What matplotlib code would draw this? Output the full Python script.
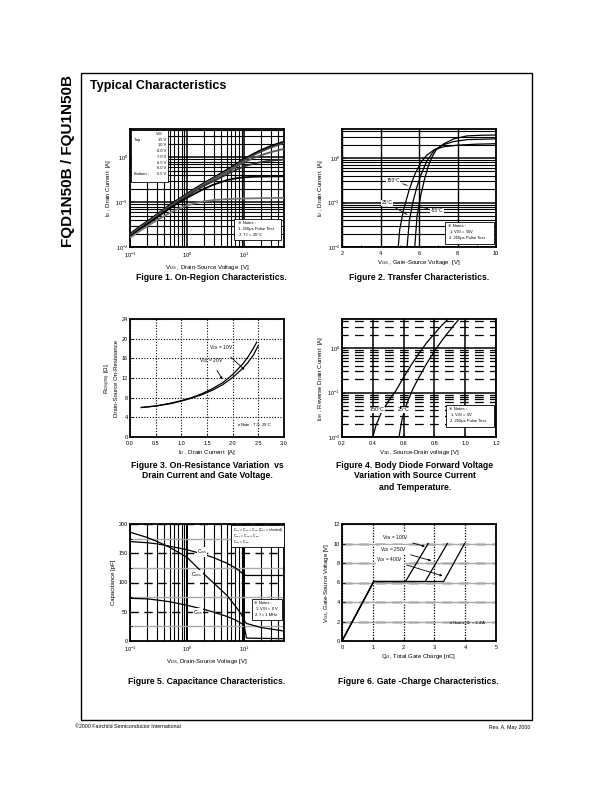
import matplotlib
matplotlib.use('Agg')
import matplotlib.pyplot as plt
from matplotlib import font_manager
from matplotlib.patches import Rectangle
from matplotlib.ticker import NullFormatter, FixedLocator

# ---------------- data ----------------
# Fig 1: On-region characteristics (V_DS [V] vs I_D [A])
vds1 = [0.1, 0.15, 0.2, 0.3, 0.5, 0.7, 1, 1.5, 2, 3, 5, 7, 10, 15, 20, 30, 50]
id_15v = [0.0195, 0.029, 0.037, 0.054, 0.087, 0.115, 0.155, 0.215, 0.27, 0.36, 0.53, 0.69, 0.92, 1.22, 1.46, 1.82, 2.25]
id_10v = [0.019, 0.028, 0.036, 0.053, 0.085, 0.113, 0.152, 0.21, 0.265, 0.355, 0.52, 0.67, 0.90, 1.19, 1.42, 1.76, 2.18]
id_8v = [0.0185, 0.0275, 0.035, 0.052, 0.083, 0.11, 0.148, 0.205, 0.26, 0.345, 0.50, 0.65, 0.87, 1.14, 1.36, 1.68, 2.10]
id_7v = [0.018, 0.027, 0.034, 0.050, 0.080, 0.106, 0.143, 0.198, 0.25, 0.33, 0.47, 0.60, 0.78, 0.98, 1.12, 1.32, 1.55]
id_65v = [0.0175, 0.026, 0.033, 0.048, 0.077, 0.102, 0.137, 0.188, 0.235, 0.30, 0.42, 0.52, 0.63, 0.73, 0.79, 0.85, 0.89]
id_6v = [0.017, 0.025, 0.032, 0.046, 0.073, 0.096, 0.126, 0.165, 0.20, 0.25, 0.31, 0.34, 0.36, 0.37, 0.372, 0.375, 0.378]
id_55v = [0.016, 0.023, 0.029, 0.040, 0.058, 0.071, 0.085, 0.097, 0.105, 0.112, 0.117, 0.119, 0.121, 0.122, 0.123, 0.124, 0.125]
vgs_legend = ["15 V", "10 V", "8.0 V", "7.0 V", "6.5 V", "6.0 V", "5.5 V"]

# Fig 2: Transfer characteristics (V_GS [V] vs I_D [A])
vgs_150 = [4.92, 5.0, 5.2, 5.5, 5.8, 6.1, 6.4, 6.8, 7.3, 8.0, 9.0, 10.0]
id_150 = [0.01, 0.025, 0.07, 0.2, 0.45, 0.8, 1.15, 1.55, 1.8, 1.95, 2.05, 2.1]
vgs_25 = [5.38, 5.5, 5.7, 5.9, 6.1, 6.4, 6.8, 7.2, 7.8, 8.5, 10.0]
id_25 = [0.01, 0.04, 0.11, 0.23, 0.42, 0.85, 1.5, 1.95, 2.35, 2.6, 2.7]
vgs_m55 = [5.78, 5.9, 6.1, 6.3, 6.5, 6.7, 6.9, 7.3, 7.8, 8.5, 9.2, 10.0]
id_m55 = [0.01, 0.05, 0.15, 0.35, 0.7, 1.1, 1.55, 2.1, 2.7, 3.15, 3.25, 3.3]

# Fig 3: On-resistance vs drain current
id3_10v = [0.22, 0.5, 0.8, 1.0, 1.2, 1.4, 1.6, 1.8, 2.0, 2.2, 2.3, 2.4, 2.47]
rds_10v = [6.0, 6.3, 6.9, 7.4, 8.0, 8.8, 9.8, 11.0, 12.7, 14.9, 16.3, 18.0, 19.3]
id3_20v = [0.22, 0.5, 0.8, 1.0, 1.2, 1.4, 1.6, 1.8, 2.0, 2.2, 2.3, 2.4, 2.5]
rds_20v = [6.0, 6.3, 6.8, 7.3, 7.9, 8.6, 9.5, 10.6, 12.1, 14.0, 15.2, 16.6, 18.6]

# Fig 4: Body diode forward voltage
vsd_150 = [0.40, 0.42, 0.45, 0.50, 0.55, 0.60, 0.65, 0.70, 0.75, 0.80, 0.85, 0.89]
idr_150 = [0.01, 0.018, 0.032, 0.063, 0.11, 0.22, 0.42, 0.76, 1.32, 2.1, 3.3, 4.5]
vsd_25 = [0.57, 0.59, 0.62, 0.66, 0.70, 0.75, 0.80, 0.85, 0.90, 0.96]
idr_25 = [0.01, 0.025, 0.055, 0.12, 0.22, 0.45, 0.85, 1.5, 2.5, 4.5]

# Fig 5: Capacitance
vds5 = [0.1, 0.2, 0.3, 0.5, 1, 2, 3, 5, 7, 9, 10, 11, 20, 50]
c_iss = [170, 168, 166, 162, 156, 148, 142, 133, 125, 117, 113, 112, 112, 112]
c_oss = [186, 177, 170, 160, 143, 114, 98, 78, 60, 45, 35, 30, 23, 17]
c_rss = [73, 72, 70, 67, 61, 54, 49, 42, 36, 30, 27, 5, 4.5, 4]

# Fig 6: Gate charge
qg_100 = [0, 1.03, 2.06, 2.80]
qg_250 = [0, 1.03, 2.70, 3.42]
qg_400 = [0, 1.03, 3.30, 3.98]
vgs_qg = [0, 6.1, 6.1, 10.0]

# ---------------- fonts ----------------
def has_font(name):
    try:
        font_manager.findfont(name, fallback_to_default=False)
        return True
    except Exception:
        return False

plt.rcParams['font.family'] = ['Liberation Sans', 'DejaVu Sans', 'Noto Sans CJK JP']
plt.rcParams['mathtext.fontset'] = 'custom'
plt.rcParams['mathtext.rm'] = 'Liberation Sans'
plt.rcParams['mathtext.it'] = 'Liberation Sans:italic'
plt.rcParams['mathtext.bf'] = 'Liberation Sans:bold'
NARROW = has_font('Liberation Sans Narrow')
cap_family = ['Liberation Sans Narrow', 'Liberation Sans'] if NARROW else ['Liberation Sans']
cap_size = 8.0 if NARROW else 6.2
NOTE_FAM = ['Liberation Sans', 'DejaVu Sans', 'Noto Sans CJK JP']

W, H = 612, 792
fig = plt.figure(figsize=(W / 100, H / 100), dpi=100)


def add_ax(l, t, r, b):
    return fig.add_axes([l / W, 1 - b / H, (r - l) / W, (b - t) / H])


def ftext(x, y, s, **kw):
    kw.setdefault('family', NOTE_FAM)
    return fig.text(x / W, 1 - y / H, s, **kw)


def fbox(l, t, r, b, lw=0.6):
    fig.patches.append(Rectangle((l / W, 1 - b / H), (r - l) / W, (b - t) / H,
                                 transform=fig.transFigure, facecolor='white',
                                 edgecolor='black', lw=lw, zorder=5))


def ff(x, y):
    return (x / W, 1 - y / H)


def style(ax, tick=4.0):
    for s in ax.spines.values():
        s.set_linewidth(1.3)
    ax.tick_params(which='both', direction='in', labelsize=tick, length=2, width=0.6, pad=1.5)
    ax.tick_params(which='minor', length=1.2)
    ax.tick_params(axis='x', which='both', pad=2.6)


LBL = 4.3

# frame and header
fig.patches.append(Rectangle((81 / W, 1 - 720 / H), (532 - 81) / W, (720 - 73) / H,
                             transform=fig.transFigure, fill=False, lw=1.0, edgecolor='black'))
ftext(68, 75, "FQD1N50B / FQU1N50B", rotation=90, ha='center', va='top',
      fontsize=11, fontweight='bold', family=['Liberation Sans'])
ftext(90, 86, "Typical Characteristics", ha='left', va='center', fontsize=9.0,
      fontweight='bold', family=['Liberation Sans'])
ftext(75, 727, "©2000 Fairchild Semiconductor International", ha='left', va='center', fontsize=3.8)
ftext(530, 727, "Rev. A, May 2000", ha='right', va='center', fontsize=3.8)

# ---------------- Figure 1 ----------------
ax1 = add_ax(130, 129, 284, 247)
curves1 = [id_15v, id_10v, id_8v, id_7v, id_65v, id_6v, id_55v]
cols1 = ['black', 'black', '#444444', '#555555', '#333333', 'black', '#777777']
for yv, c in zip(curves1, cols1):
    ax1.plot(vds1, yv, color=c, lw=1.3, zorder=3)
ax1.set_xscale('log')
ax1.set_yscale('log')
ax1.set_xlim(0.1, 50)
ax1.set_ylim(0.01, 4.3)
ax1.xaxis.set_minor_formatter(NullFormatter())
ax1.yaxis.set_minor_formatter(NullFormatter())
ax1.grid(True, which='major', color='black', lw=1.1)
ax1.grid(True, which='minor', color='black', lw=0.8)
style(ax1)
ax1.set_xlabel("V$_{DS}$ , Drain-Source Voltage  [V]", fontsize=LBL, labelpad=2)
ax1.set_ylabel("I$_D$ , Drain Current  [A]", fontsize=LBL, labelpad=2)
fbox(130.5, 129.5, 168, 182)
ftext(159, 134.5, "V$_{GS}$", ha='center', va='center', fontsize=2.9, zorder=6)
ypos = [140, 145.5, 151.5, 157, 162.5, 168, 174]
for yy, lab in zip(ypos, vgs_legend):
    ftext(166, yy, lab, ha='right', va='center', fontsize=2.9, zorder=6)
ftext(134, 140, "Top :", ha='left', va='center', fontsize=2.9, zorder=6)
ftext(134, 174, "Bottom :", ha='left', va='center', fontsize=2.9, zorder=6)
fbox(234, 219, 281, 240)
ftext(238, 223, "※ Notes :", ha='left', va='center', fontsize=3.0, zorder=6)
ftext(238, 229, "1. 250μs Pulse Test", ha='left', va='center', fontsize=3.0, zorder=6)
ftext(238, 235, "2. T$_C$ = 25°C", ha='left', va='center', fontsize=3.0, zorder=6)

# ---------------- Figure 2 ----------------
ax2 = add_ax(342, 129, 496, 247)
ax2.plot(vgs_150, id_150, color='black', lw=0.9, zorder=3)
ax2.plot(vgs_25, id_25, color='black', lw=0.9, zorder=3)
ax2.plot(vgs_m55, id_m55, color='black', lw=0.9, zorder=3)
ax2.set_yscale('log')
ax2.set_xlim(2, 10)
ax2.set_ylim(0.01, 4.5)
ax2.set_xticks([2, 4, 6, 8, 10])
ax2.xaxis.set_minor_locator(FixedLocator([3, 5, 7, 9]))
ax2.yaxis.set_minor_formatter(NullFormatter())
ax2.grid(True, axis='x', which='major', color='black', lw=1.0)
ax2.grid(True, axis='y', which='major', color='black', lw=1.1)
ax2.grid(True, axis='y', which='minor', color='black', lw=0.8)
style(ax2)
ax2.set_xlabel("V$_{GS}$ , Gate-Source Voltage  [V]", fontsize=LBL, labelpad=2)
ax2.set_ylabel("I$_D$ , Drain Current  [A]", fontsize=LBL, labelpad=2)
ap = dict(arrowstyle='-', color='black', lw=0.6)
ax2.annotate("150°C", xy=(5.52, 0.23), xycoords='data', xytext=ff(393, 180),
             textcoords='figure fraction', fontsize=3.5, ha='center', va='center',
             arrowprops=ap, bbox=dict(fc='white', ec='none', pad=0.3))
ax2.annotate("25°C", xy=(5.5, 0.05), xycoords='data', xytext=ff(387, 203),
             textcoords='figure fraction', fontsize=3.5, ha='center', va='center',
             arrowprops=ap, bbox=dict(fc='white', ec='none', pad=0.3))
ax2.annotate("-55°C", xy=(5.93, 0.083), xycoords='data', xytext=ff(437, 211),
             textcoords='figure fraction', fontsize=3.5, ha='center', va='center',
             arrowprops=ap, bbox=dict(fc='white', ec='none', pad=0.3))
fbox(445, 222, 494, 244)
ftext(448, 226, "※ Notes :", ha='left', va='center', fontsize=3.0, zorder=6)
ftext(449, 232, "1. V$_{DS}$ = 50V", ha='left', va='center', fontsize=3.0, zorder=6)
ftext(449, 238, "2. 250μs Pulse Test", ha='left', va='center', fontsize=3.0, zorder=6)

# ---------------- Figure 3 ----------------
ax3 = add_ax(130, 319, 284, 437)
ax3.plot(id3_10v, rds_10v, color='black', lw=0.9, zorder=3)
ax3.plot(id3_20v, rds_20v, color='black', lw=0.9, zorder=3)
ax3.set_xlim(0, 3.0)
ax3.set_ylim(0, 24)
ax3.set_xticks([0, 0.5, 1.0, 1.5, 2.0, 2.5, 3.0])
ax3.set_xticklabels(["0.0", "0.5", "1.0", "1.5", "2.0", "2.5", "3.0"])
ax3.set_yticks([0, 4, 8, 12, 16, 20, 24])
ax3.grid(True, color='black', lw=0.8, ls=(0, (1, 1.5)))
style(ax3)
ax3.set_xlabel("I$_D$ , Drain Current  [A]", fontsize=LBL, labelpad=2)
ax3.set_ylabel("R$_{DS(ON)}$ [Ω],\nDrain-Source On-Resistance", fontsize=LBL, labelpad=2, linespacing=1.1)
ax3.annotate("V$_{GS}$ = 10V", xy=(2.27, 13.3), xycoords='data', xytext=ff(221, 348),
             textcoords='figure fraction', fontsize=3.5, ha='center', va='center',
             arrowprops=dict(arrowstyle='-|>', color='black', lw=0.6, mutation_scale=3))
ax3.annotate("V$_{GS}$ = 20V", xy=(1.83, 11.25), xycoords='data', xytext=ff(211, 361),
             textcoords='figure fraction', fontsize=3.5, ha='center', va='center',
             arrowprops=dict(arrowstyle='-|>', color='black', lw=0.6, mutation_scale=3))
ftext(255, 425, "※ Note : T$_J$ = 25°C", ha='center', va='center', fontsize=3.0, zorder=6)

# ---------------- Figure 4 ----------------
ax4 = add_ax(342, 319, 496, 437)
ax4.plot(vsd_150, idr_150, color='black', lw=0.9, zorder=3)
ax4.plot(vsd_25, idr_25, color='black', lw=0.9, zorder=3)
ax4.set_yscale('log')
ax4.set_xlim(0.2, 1.2)
ax4.set_ylim(0.01, 4.5)
ax4.set_xticks([0.2, 0.4, 0.6, 0.8, 1.0, 1.2])
ax4.set_xticklabels(["0.2", "0.4", "0.6", "0.8", "1.0", "1.2"])
ax4.yaxis.set_minor_formatter(NullFormatter())
ax4.grid(True, axis='x', which='major', color='black', lw=1.1)
ax4.grid(True, axis='y', which='major', color='black', lw=1.1)
ax4.grid(True, axis='y', which='minor', color='black', lw=0.9, ls=(2, (7, 5)))
style(ax4)
ax4.set_xlabel("V$_{SD}$, Source-Drain voltage [V]", fontsize=LBL, labelpad=2)
ax4.set_ylabel("I$_{DR}$ , Reverse Drain Current  [A]", fontsize=LBL, labelpad=2)
ftext(377, 410, "150°C", ha='center', va='center', fontsize=3.8, zorder=6,
      bbox=dict(fc='white', ec='none', pad=0.2))
ftext(404, 410, "25°C", ha='center', va='center', fontsize=3.8, zorder=6,
      bbox=dict(fc='white', ec='none', pad=0.2))
fbox(446, 405, 494, 427)
ftext(449, 409, "※ Notes :", ha='left', va='center', fontsize=3.0, zorder=6)
ftext(450, 415, "1. V$_{GS}$ = 0V", ha='left', va='center', fontsize=3.0, zorder=6)
ftext(450, 421, "2. 250μs Pulse Test", ha='left', va='center', fontsize=3.0, zorder=6)

# ---------------- Figure 5 ----------------
ax5 = add_ax(130, 524, 284, 641)
ax5.plot(vds5, c_iss, color='black', lw=0.9, zorder=3)
ax5.plot(vds5, c_oss, color='black', lw=0.9, zorder=3)
ax5.plot(vds5, c_rss, color='black', lw=0.9, zorder=3)
ax5.set_xscale('log')
ax5.set_xlim(0.1, 50)
ax5.set_ylim(0, 200)
ax5.set_yticks([0, 50, 100, 150, 200])
ax5.yaxis.set_minor_locator(FixedLocator([25, 75, 125, 175]))
ax5.xaxis.set_minor_formatter(NullFormatter())
ax5.grid(True, axis='x', which='major', color='black', lw=1.4)
ax5.grid(True, axis='x', which='minor', color='black', lw=0.8)
ax5.grid(True, axis='y', which='minor', color='#aaaaaa', lw=1.0)
ax5.grid(True, axis='y', which='major', color='black', lw=1.0, ls=(0, (6, 4)))
style(ax5)
ax5.set_xlabel("V$_{DS}$, Drain-Source Voltage [V]", fontsize=LBL, labelpad=2)
ax5.set_ylabel("Capacitance [pF]", fontsize=LBL, labelpad=2)
ftext(202, 552, "C$_{iss}$", ha='center', va='center', fontsize=3.6, zorder=6,
      bbox=dict(fc='white', ec='none', pad=0.2))
ftext(197, 575, "C$_{oss}$", ha='center', va='center', fontsize=3.6, zorder=6,
      bbox=dict(fc='white', ec='none', pad=0.2))
ftext(198, 613, "C$_{rss}$", ha='center', va='center', fontsize=3.6, zorder=6,
      bbox=dict(fc='white', ec='none', pad=0.2))
fbox(231, 525, 283.5, 547)
ftext(233, 530, "C$_{iss}$ = C$_{gs}$ + C$_{gd}$ (C$_{ds}$ = shorted)", ha='left', va='center', fontsize=2.5, zorder=6)
ftext(233, 536, "C$_{oss}$ = C$_{ds}$ + C$_{gd}$", ha='left', va='center', fontsize=2.5, zorder=6)
ftext(233, 542, "C$_{rss}$ = C$_{gd}$", ha='left', va='center', fontsize=2.5, zorder=6)
fbox(252, 599, 282, 620)
ftext(254, 603, "※ Notes :", ha='left', va='center', fontsize=3.0, zorder=6)
ftext(255, 609, "1. V$_{GS}$ = 0 V", ha='left', va='center', fontsize=3.0, zorder=6)
ftext(255, 615, "2. f = 1 MHz", ha='left', va='center', fontsize=3.0, zorder=6)

# ---------------- Figure 6 ----------------
ax6 = add_ax(342, 524, 496, 641)
ax6.plot(qg_100, vgs_qg, color='black', lw=0.9, zorder=3)
ax6.plot(qg_250, vgs_qg, color='black', lw=0.9, zorder=3)
ax6.plot(qg_400, vgs_qg, color='black', lw=0.9, zorder=3)
ax6.set_xlim(0, 5)
ax6.set_ylim(0, 12)
ax6.set_xticks([0, 1, 2, 3, 4, 5])
ax6.set_yticks([0, 2, 4, 6, 8, 10, 12])
ax6.grid(True, axis='y', color='#aaaaaa', lw=1.0)
ax6.grid(True, axis='x', color='black', lw=0.9, ls=(0, (1, 1.2)))
for yv in [2, 4, 6, 8, 10]:
    ax6.axhline(yv, color='black', lw=1.0, ls=(0, (7, 5)), zorder=1)
style(ax6)
ax6.set_xlabel("Q$_G$, Total Gate Charge [nC]", fontsize=LBL, labelpad=2)
ax6.set_ylabel("V$_{GS}$, Gate-Source Voltage [V]", fontsize=LBL, labelpad=2)
for lab, tip, tp in [("V$_{DS}$ = 100V", (2.78, 9.6), (396, 538)),
                     ("V$_{DS}$ = 250V", (2.98, 8.16), (394, 550)),
                     ("V$_{DS}$ = 400V", (3.35, 6.6), (390, 560))]:
    ax6.annotate(lab, xy=tip, xycoords='data', xytext=ff(*tp), textcoords='figure fraction',
                 fontsize=3.5, ha='center', va='center',
                 bbox=dict(fc='white', ec='none', pad=0.3),
                 arrowprops=dict(arrowstyle='-|>', color='black', lw=0.6, mutation_scale=3))
ftext(468, 623, "※ Notes : I$_D$ = 1.4 A", ha='center', va='center', fontsize=3.0, zorder=6)

# ---------------- captions ----------------
capkw = dict(ha='center', va='center', fontsize=cap_size, fontweight='bold', family=cap_family)
ftext(211, 278, "Figure 1. On-Region Characteristics.", **capkw)
ftext(419, 278, "Figure 2. Transfer Characteristics.", **capkw)
ftext(207, 465, "Figure 3. On-Resistance Variation  vs", **capkw)
ftext(207, 476, "Drain Current and Gate Voltage.", **capkw)
ftext(415, 465, "Figure 4. Body Diode Forward Voltage", **capkw)
ftext(415, 476, "Variation with Source Current", **capkw)
ftext(415, 487, "and Temperature.", **capkw)
ftext(207, 681, "Figure 5. Capacitance Characteristics.", **capkw)
ftext(418, 681, "Figure 6. Gate -Charge Characteristics.", **capkw)

fig.savefig("out.png", dpi=100)
